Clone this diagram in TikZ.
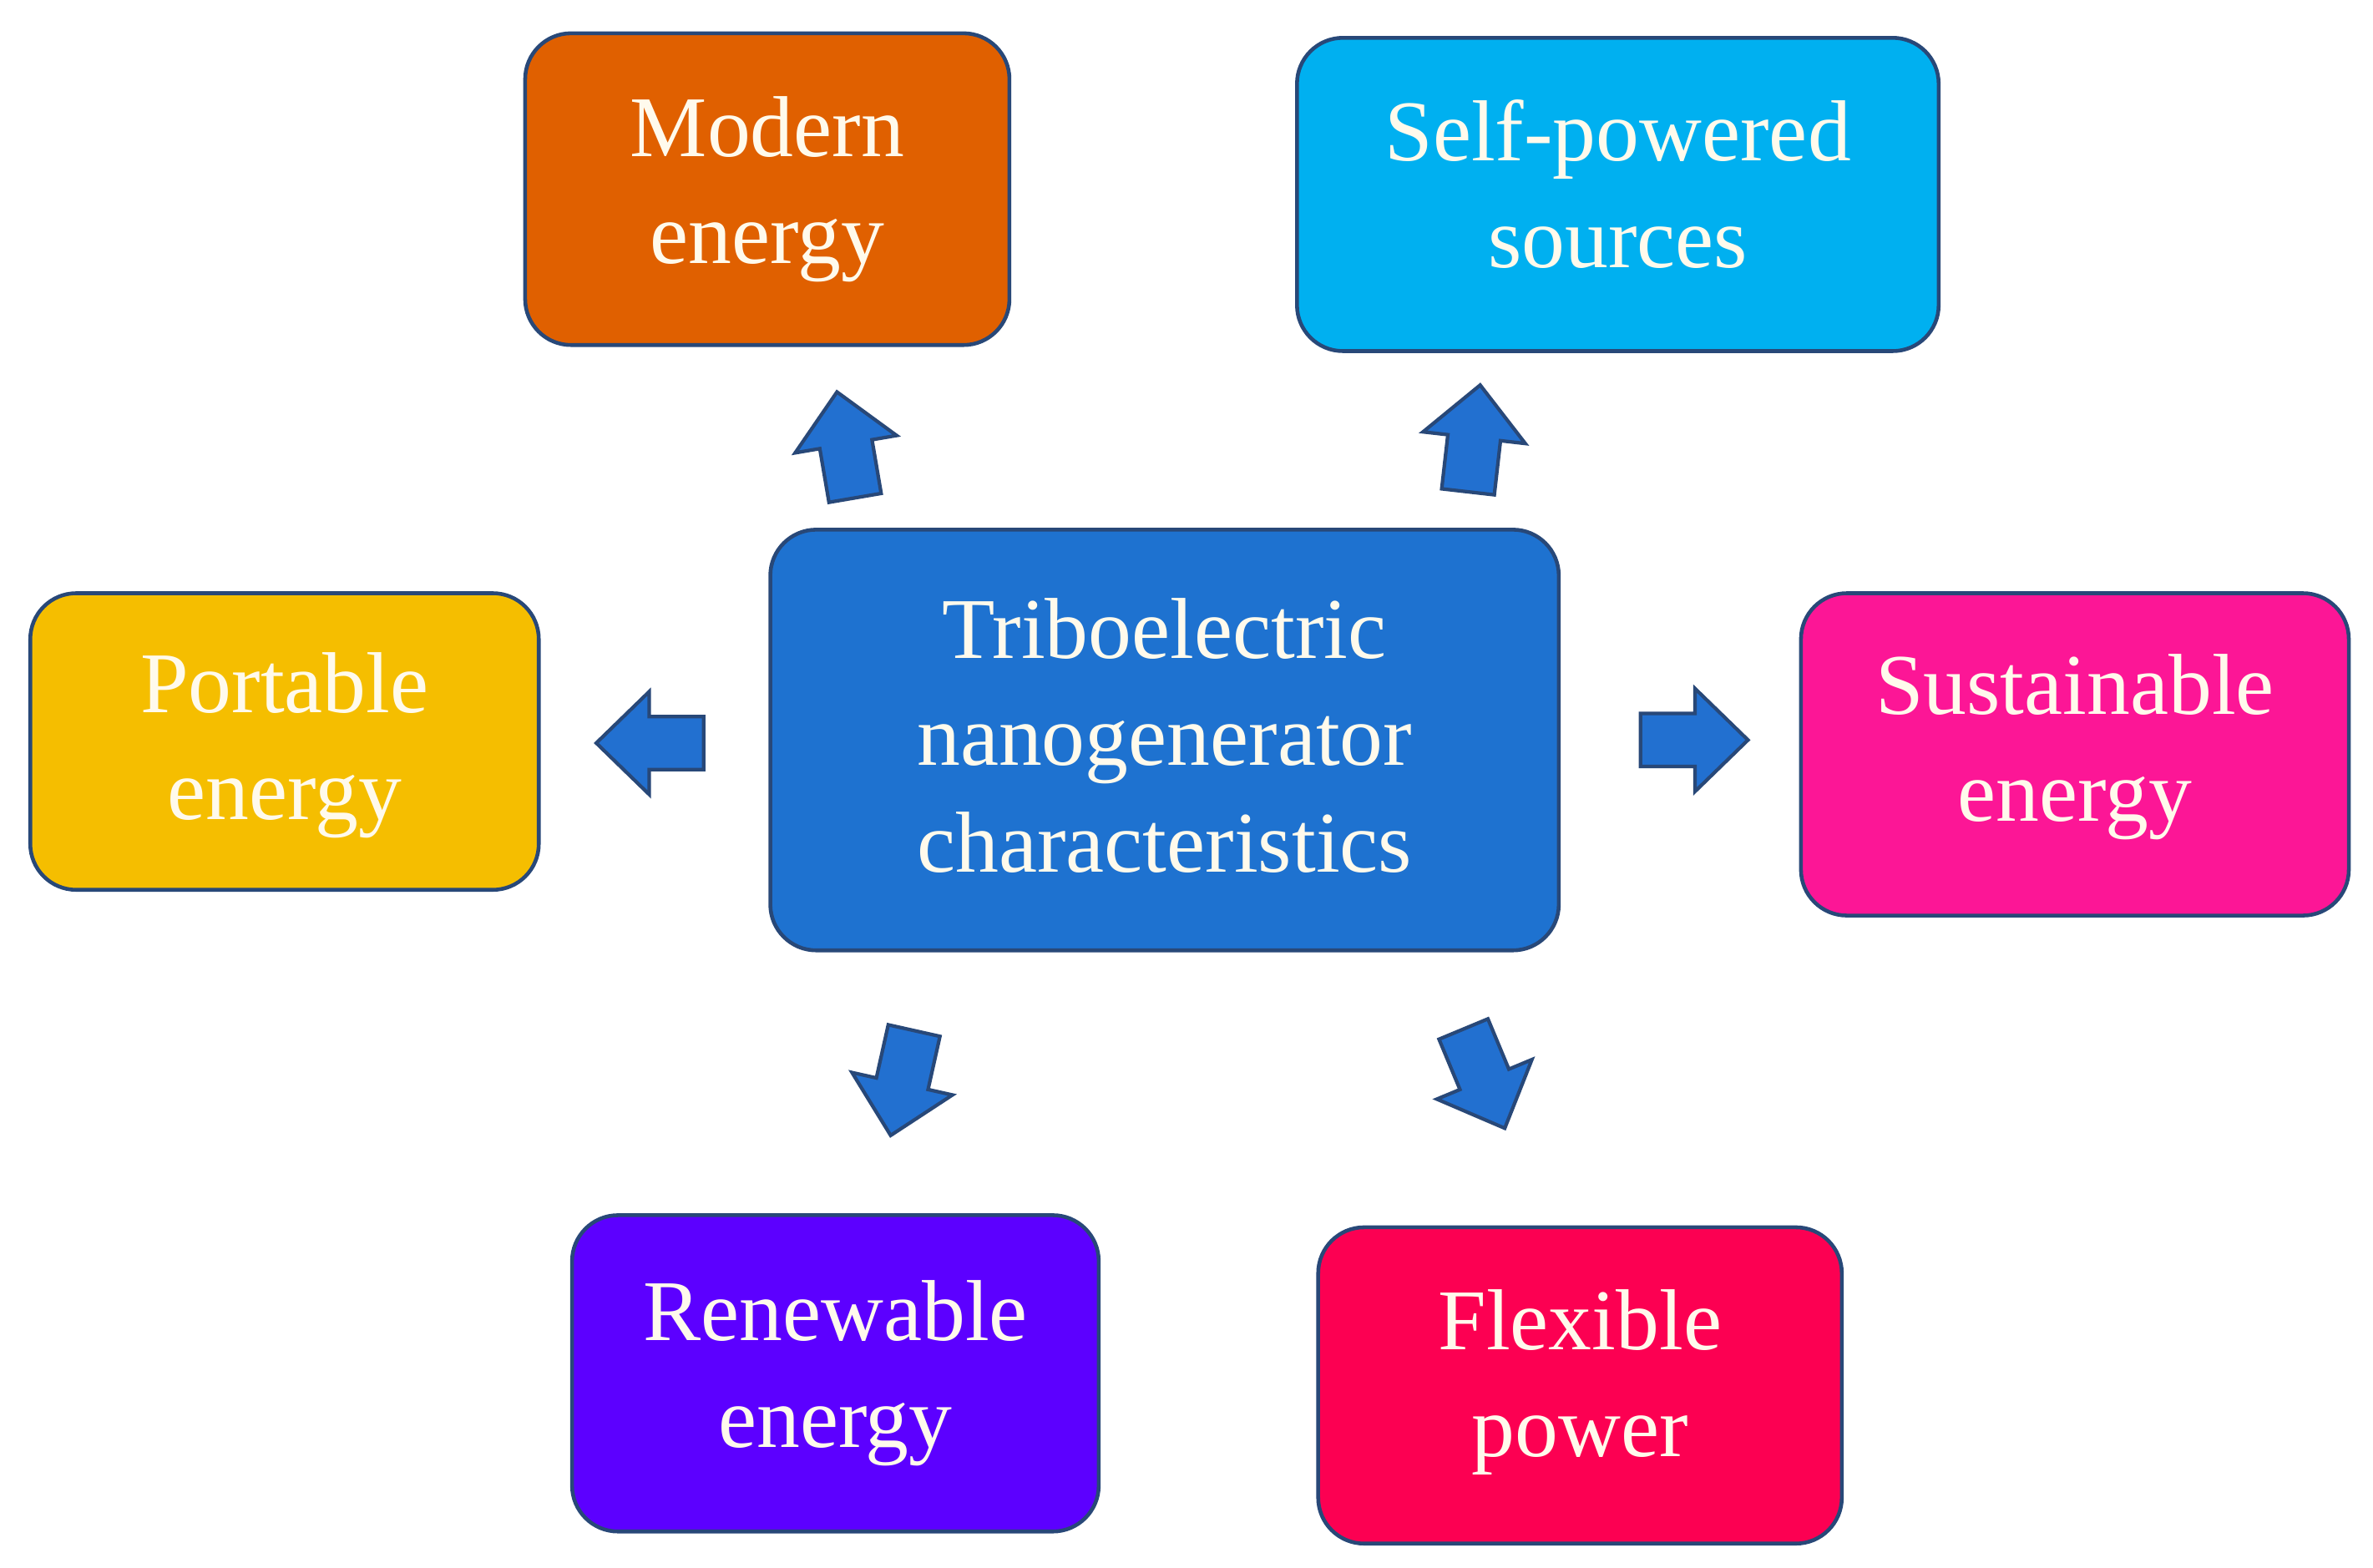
\documentclass[tikz,border=0pt]{standalone}
\usepackage{fontspec}
\setmainfont{Liberation Serif}
\def\px{0.018125cm}
\definecolor{bordc}{RGB}{40,72,120}
\definecolor{txtc}{RGB}{255,250,236}
\definecolor{cmodern}{RGB}{224,96,0}
\definecolor{cself}{RGB}{0,176,240}
\definecolor{ctribo}{RGB}{30,114,208}
\definecolor{cport}{RGB}{245,190,0}
\definecolor{csust}{RGB}{252,22,150}
\definecolor{crenew}{RGB}{92,0,255}
\definecolor{cflex}{RGB}{252,0,82}
\definecolor{carrow}{RGB}{34,112,208}
\tikzset{
  box/.style={draw=bordc, line width=1.3pt, rounded corners=0.55cm, inner sep=0pt},
  txt/.style={text=txtc, align=center, inner sep=0pt,
    font=\fontsize{29.5}{36.5}\selectfont},
  arrowshape/.style={draw=bordc, fill=carrow, line width=1.2pt, line join=miter},
  blockarrow/.pic={\path[arrowshape] (0,-17.5) -- (36,-17.5) -- (36,-34) -- (71,0) -- (36,34) -- (36,17.5) -- (0,17.5) -- cycle;}
}
\begin{document}
\begin{tikzpicture}[x=\px, y=-\px]
\useasboundingbox[fill=white] (0,0) rectangle (1568,1036);
\node[box, fill=cmodern, minimum width=320*\px, minimum height=206*\px] (modern) at (507,125) {};
\node[box, fill=cself, minimum width=424*\px, minimum height=207*\px] (self) at (1069,128.5) {};
\node[box, fill=ctribo, minimum width=521*\px, minimum height=278*\px] (tribo) at (769.5,489) {};
\node[box, fill=cport, minimum width=336*\px, minimum height=196*\px] (port) at (188,490) {};
\node[box, fill=csust, minimum width=362*\px, minimum height=213*\px] (sust) at (1371,498.5) {};
\node[box, fill=crenew, minimum width=348*\px, minimum height=209*\px] (renew) at (552,907.5) {};
\node[box, fill=cflex, minimum width=346*\px, minimum height=209*\px] (flex) at (1044,915.5) {};
\node[txt] (tmodern) at (modern.center) {Modern\\energy};
\node[txt] (tself) at ([yshift=7*\px]self.center) {Self-powered\\sources};
\node[txt] (ttribo) at ([yshift=3*\px]tribo.center) {Triboelectric\\nanogenerator\\characteristics};
\node[txt] (tport) at ([yshift=-2.5*\px]port.center) {Portable\\energy};
\node[txt] (tsust) at ([yshift=5*\px]sust.center) {Sustainable\\energy};
\node[txt] (trenew) at (renew.center) {Renewable\\energy};
\node[txt] (tflex) at ([yshift=2*\px]flex.center) {Flexible\\power};
\path (565,329) pic[rotate=99.7] {blockarrow};
\path (970,325) pic[rotate=83.5] {blockarrow};
\path (465,491) pic[rotate=180] {blockarrow};
\path (1084,489) pic[rotate=0] {blockarrow};
\path (604,681) pic[rotate=257.4] {blockarrow};
\path (967,680) pic[rotate=-67.4] {blockarrow};
\end{tikzpicture}
\end{document}
